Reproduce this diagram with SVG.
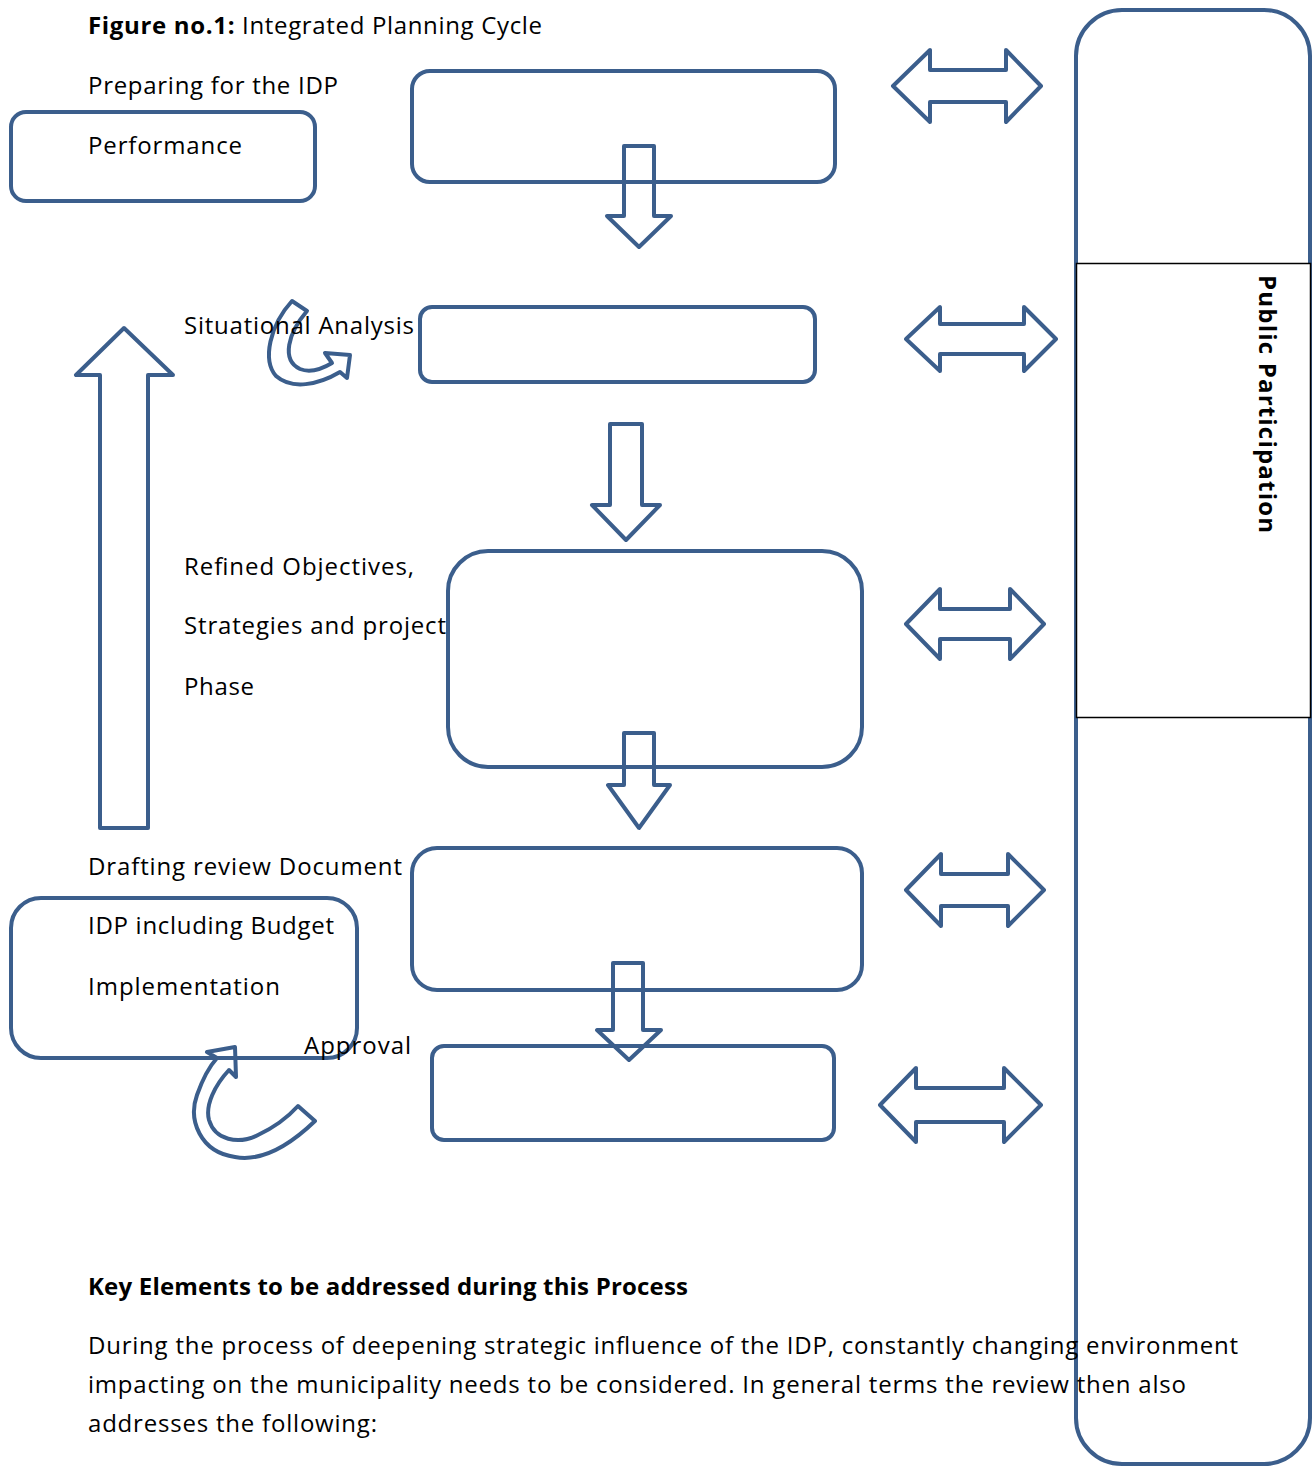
<svg xmlns="http://www.w3.org/2000/svg" width="1312" height="1466" viewBox="0 0 1312 1466">
<style>
.b{fill:none;stroke:#3B5E8C;stroke-width:4;stroke-linejoin:round}
.t{font-family:"Open Sans","Liberation Sans",sans-serif;font-size:24px;fill:#000}
.bold{font-weight:bold}
</style>
<rect width="1312" height="1466" fill="#fff"/>
<g id="public-participation">
<rect class="b" x="1076" y="10" width="234" height="1454" rx="46"/>
<rect x="1076.5" y="263.5" width="234" height="454" fill="#fff" stroke="#000" stroke-width="1.5"/>
<text class="t bold" transform="translate(1259,275) rotate(90)" font-size="27" textLength="258">Public Participation</text>
</g>
<g id="connectors">
<path class="b" d="M624,146 L654,146 L654,216 L671,216 L639,247 L607,216 L624,216 Z"/>
<path class="b" d="M610,424 L642,424 L642,505 L660,505 L626,540 L592,505 L610,505 Z"/>
<path class="b" d="M624,733 L654,733 L654,785 L670,785 L639,828 L608,785 L624,785 Z"/>
<path class="b" d="M613,963 L643,963 L643,1030 L661,1030 L629,1060 L597,1030 L613,1030 Z"/>
<path class="b" d="M100,828 L148,828 L148,375 L173,375 L124,328 L76,375 L100,375 Z"/>
<path class="b" d="M893,86 L930,50 L930,70 L1006,70 L1006,50 L1041,86 L1006,122 L1006,102 L930,102 L930,122 Z"/>
<path class="b" d="M906,339 L940,307 L940,324 L1024,324 L1024,307 L1056,339 L1024,371 L1024,354 L940,354 L940,371 Z"/>
<path class="b" d="M906,624 L940,589 L940,609 L1010,609 L1010,589 L1044,624 L1010,659 L1010,639 L940,639 L940,659 Z"/>
<path class="b" d="M906,890 L941,854 L941,874 L1008,874 L1008,854 L1044,890 L1008,926 L1008,906 L941,906 L941,926 Z"/>
<path class="b" d="M880,1105 L916,1068 L916,1088 L1004,1088 L1004,1068 L1041,1105 L1004,1142 L1004,1122 L916,1122 L916,1142 Z"/>
<path class="b" d="M292,301 L307,311 C288,333 281,360 300,369 C310,373 322,369 332,363 L325,353 L350,355 L347,378 L340,372 C318,385 292,390 276,376 C262,360 270,325 292,301 Z"/>
<path class="b" d="M298,1106 L315,1121 C290,1145 262,1162 235,1157 C200,1152 188,1120 197,1095 C203,1078 208,1068 217,1058 L207,1052 L235,1047 L236,1077 L229,1070 C215,1085 205,1105 209,1120 C215,1140 238,1145 258,1135 C275,1127 288,1117 298,1106 Z"/>
</g>
<g id="node-top">
<rect class="b" x="412" y="71" width="423" height="111" rx="18"/>
</g>
<g id="node-performance">
<rect class="b" x="11" y="112" width="304" height="89" rx="15"/>
</g>
<g id="node-situational">
<rect class="b" x="420" y="307" width="395" height="75" rx="12"/>
</g>
<g id="node-objectives">
<rect class="b" x="448" y="551" width="414" height="216" rx="40"/>
</g>
<g id="node-drafting">
<rect class="b" x="412" y="848" width="450" height="142" rx="25"/>
</g>
<g id="node-implementation">
<rect class="b" x="11" y="898" width="346" height="160" rx="30"/>
</g>
<g id="node-approval">
<rect class="b" x="432" y="1046" width="402" height="94" rx="12"/>
</g>
<g id="labels">
<text class="t" x="88" y="34" textLength="454"><tspan class="bold">Figure no.1:</tspan> Integrated Planning Cycle</text>
<text class="t" x="88" y="94" textLength="250">Preparing for the IDP</text>
<text class="t" x="88" y="154" textLength="154">Performance</text>
<text class="t" x="184" y="334" textLength="230">Situational Analysis</text>
<text class="t" x="184" y="575" textLength="230">Refined Objectives,</text>
<text class="t" x="184" y="634" textLength="262">Strategies and project</text>
<text class="t" x="184" y="695" textLength="70">Phase</text>
<text class="t" x="88" y="875" textLength="314">Drafting review Document</text>
<text class="t" x="88" y="934" textLength="246">IDP including Budget</text>
<text class="t" x="88" y="995" textLength="192">Implementation</text>
<text class="t" x="304" y="1054" textLength="107">Approval</text>
<text class="t bold" x="88" y="1295" textLength="600">Key Elements to be addressed during this Process</text>
<text class="t" x="88" y="1354" textLength="1150">During the process of deepening strategic influence of the IDP, constantly changing environment</text>
<text class="t" x="88" y="1393" textLength="1098">impacting on the municipality needs to be considered. In general terms the review then also</text>
<text class="t" x="88" y="1432" textLength="289">addresses the following:</text>
</g>
</svg>
